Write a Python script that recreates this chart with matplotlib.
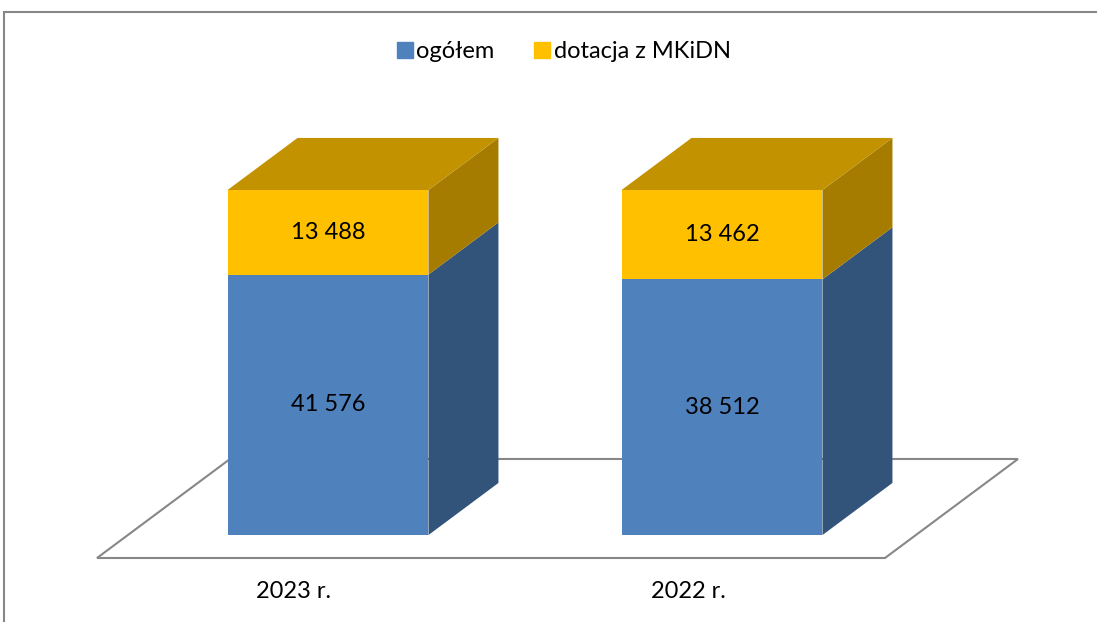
import matplotlib
matplotlib.use("Agg")
import matplotlib.pyplot as plt
from matplotlib.patches import Polygon, Rectangle
from matplotlib.lines import Line2D

plt.rcParams['font.family'] = ['Lato', 'DejaVu Sans']

# data
categories = ['2023 r.', '2022 r.']
ogolem = [41576, 38512]
dotacja = [13488, 13462]
series_names = ['ogółem', 'dotacja z MKiDN']

# colours (front, side, top)
blue = ('#4F81BD', '#33547A', '#3E679A')
yellow = ('#FFC000', '#A67C00', '#C29200')
floor_col = '#878787'

# oblique 3D projection settings (data units)
depth_dx = 0.3376   # x shift for full floor depth
depth_dy = 28.7     # y shift (percent units) for full floor depth
d0, d1 = 0.232, 0.758   # bar front/back depth inside the floor
bar_w = 0.51
bar_shift = 0.008   # small extra shift of the bars to the right

fig = plt.figure(figsize=(10.97, 6.22), dpi=100)
ax = fig.add_axes([97 / 1097, 64 / 622, 788 / 1097, 345 / 622])
ax.set_xlim(-0.5, 1.5)
ax.set_ylim(0, 100)
ax.axis('off')

# outer chart border (right and bottom edges fall off the picture)
fig.patches.append(Rectangle((4 / 1097, -0.1), 1.2, 1.1 - 12 / 622, transform=fig.transFigure,
                             fill=False, edgecolor=floor_col, lw=1.5))

# floor
floor = Polygon([(-0.5, 0), (1.5, 0), (1.5 + depth_dx, depth_dy), (-0.5 + depth_dx, depth_dy)],
                closed=True, facecolor='white', edgecolor=floor_col, lw=1.5, zorder=1, clip_on=False)
ax.add_patch(floor)

# 100% stacked shares
totals = [a + b for a, b in zip(ogolem, dotacja)]
share_blue = [100 * a / t for a, t in zip(ogolem, totals)]
share_yel = [100 * b / t for b, t in zip(dotacja, totals)]

fx, fy = d0 * depth_dx + bar_shift, d0 * depth_dy
bx, by = (d1 - d0) * depth_dx, (d1 - d0) * depth_dy
xs = [i + fx for i in range(len(categories))]

ax.bar(xs, share_blue, width=bar_w, bottom=fy, color=blue[0], zorder=3, clip_on=False)
ax.bar(xs, share_yel, width=bar_w, bottom=[fy + s for s in share_blue], color=yellow[0],
       zorder=3, clip_on=False)

for i, x in enumerate(xs):
    right = x + bar_w / 2
    left = x - bar_w / 2
    y0 = fy
    y1 = fy + share_blue[i]
    y2 = y1 + share_yel[i]
    for ya, yb, col in [(y0, y1, blue[1]), (y1, y2, yellow[1])]:
        ax.add_patch(Polygon([(right, ya), (right, yb), (right + bx, yb + by), (right + bx, ya + by)],
                             closed=True, facecolor=col, edgecolor='none', zorder=2, clip_on=False))
    ax.add_patch(Polygon([(left, y2), (right, y2), (right + bx, y2 + by), (left + bx, y2 + by)],
                         closed=True, facecolor=yellow[2], edgecolor='none', zorder=2, clip_on=False))
    ax.text(x, (y0 + y1) / 2, f"{ogolem[i]:,}".replace(",", " "), ha='center', va='center',
            fontsize=17, zorder=5)
    ax.text(x, (y1 + y2) / 2, f"{dotacja[i]:,}".replace(",", " "), ha='center', va='center',
            fontsize=17, zorder=5)
    ax.text(i, -9.6, categories[i], ha='center', va='center', fontsize=17)

handles = [Line2D([], [], marker='s', linestyle='none', markersize=11, color=blue[0]),
           Line2D([], [], marker='s', linestyle='none', markersize=11, color=yellow[0])]
fig.legend(handles, series_names, loc='center', bbox_to_anchor=(563 / 1097, 1 - 52 / 622), ncol=2,
           frameon=False, fontsize=17, handletextpad=0.1, columnspacing=1.6, handlelength=0.8)

fig.savefig('out.png', dpi=100)
